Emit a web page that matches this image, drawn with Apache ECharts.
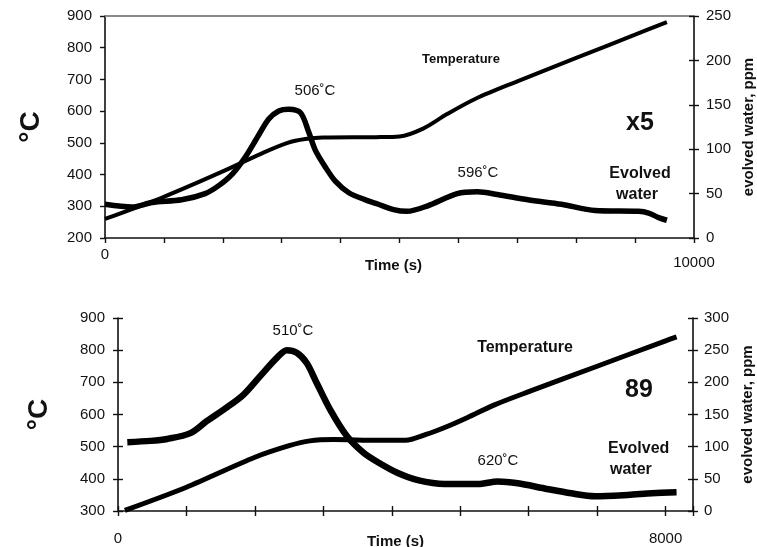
<!DOCTYPE html>
<html>
<head>
<meta charset="utf-8">
<script src="https://cdn.jsdelivr.net/npm/echarts@6/dist/echarts.min.js"></script>
<style>
  html, body { margin: 0; padding: 0; background: #fff; }
  #main { width: 757px; height: 547px; }
</style>
</head>
<body>
<div id="main"></div>
<script>
// upper panel (x5): time in s, temperature in °C, water in ppm
var topTempTime = [0, 1000, 2000, 2700, 3100, 3400, 3700, 4600, 5000, 5400, 5800, 6300, 7000, 8000, 9000, 9540];
var topTemp = [260, 330, 410, 470, 500, 512, 517, 518, 520, 545, 590, 640, 694, 768, 841, 881];
var topWaterTime = [0, 460, 800, 1300, 1700, 1930, 2160, 2380, 2610, 2780, 2950, 3120, 3320, 3460, 3570, 3740, 3910, 4140, 4420, 4640, 4900, 5125, 5470, 5980, 6320, 6660, 7180, 7750, 8320, 9060, 9230, 9400, 9540];
var topWater = [38, 35, 40, 43, 50, 59, 72, 91, 116, 134, 143, 145, 141, 119, 99, 80, 64, 51, 43, 38, 32, 30, 36, 50, 52, 49, 43, 38, 31, 30, 28, 23, 20];

// lower panel (89)
var botTempTime = [100, 1000, 2000, 2500, 2800, 3150, 3800, 4200, 4500, 4800, 5100, 5500, 6000, 7000, 8000, 8160];
var botTemp = [302, 374, 467, 503, 518, 522, 520, 520, 538, 562, 590, 630, 671, 750, 829, 841];
var botWaterTime = [136, 476, 718, 1058, 1300, 1590, 1835, 2080, 2320, 2466, 2612, 2757, 2903, 3097, 3340, 3583, 3810, 4088, 4380, 4770, 5260, 5550, 5840, 6230, 6620, 6970, 7450, 7800, 8160];
var botWater = [107, 109, 112, 121, 140, 161, 181, 210, 238, 250, 246, 230, 199, 158, 117, 91, 75, 59, 48, 42, 42, 46, 43, 35, 27.5, 23, 25, 27.5, 29];

// [min, max, step]
var topTempTicks = [200, 900, 100];
var topWaterTicks = [0, 250, 50];
var botTempTicks = [300, 900, 100];
var botWaterTicks = [0, 300, 50];

function pairs(xs, ys) {
    return xs.map(function (x, i) { return [x, ys[i]]; });
}

var font = 'Liberation Sans, Arial, sans-serif';
var black = '#111';

function yAx(grid, pos, ticks, opts) {
    var a = {
        type: 'value', gridIndex: grid, position: pos,
        min: ticks[0], max: ticks[1], interval: ticks[2],
        splitLine: { show: false },
        axisLine: { show: true, onZero: false, lineStyle: { color: black, width: 1.6 } },
        axisTick: { show: true, length: 5, inside: false, lineStyle: { color: black, width: 1.4 } },
        axisLabel: { show: true, fontFamily: font, fontSize: 15, color: black, margin: 12 },
        nameMoveOverlap: false
    };
    return Object.assign(a, opts || {});
}

// second copy of an axis, only for the inner half of the cross ticks
function innerY(grid, pos, ticks) {
    return yAx(grid, pos, ticks, {
        axisLine: { show: false, onZero: false },
        axisTick: { show: true, length: 5, inside: true, lineStyle: { color: black, width: 1.4 } },
        axisLabel: { show: false }
    });
}

var myChart = echarts.init(document.getElementById('main'));

var option = {
    animation: false,
    grid: [
        { left: 105, right: 63, top: 16, height: 222, outerBoundsMode: 'none' },
        { left: 118, right: 64, top: 318, height: 193, outerBoundsMode: 'none' },
        { left: 105, right: 63, top: 16, height: 222, outerBoundsMode: 'none' },
        { left: 118, right: 64, top: 318, height: 193, outerBoundsMode: 'none' }
    ],
    xAxis: [
        {
            type: 'value', gridIndex: 0, position: 'bottom', min: 0, max: 10000, interval: 1000,
            splitLine: { show: false },
            axisLine: { onZero: false, lineStyle: { color: black, width: 1.6 } },
            axisTick: { length: 5, lineStyle: { color: black, width: 1.4 } },
            axisLabel: {
                margin: 9, fontFamily: font, fontSize: 15, color: black,
                formatter: function (v) {
                    if (v === 0) return '{a|0}';
                    if (v === 10000) return '{b|10000}';
                    return '';
                },
                rich: {
                    a: { fontFamily: font, fontSize: 15, color: black },
                    b: { fontFamily: font, fontSize: 15, color: black, padding: [8, 0, 0, 0] }
                }
            },
            name: 'Time (s)', nameLocation: 'middle', nameGap: 20, nameMoveOverlap: false,
            nameTextStyle: { fontFamily: font, fontSize: 15, fontWeight: 'bold', color: black, padding: [0, 12, 0, 0] }
        },
        {
            type: 'value', gridIndex: 0, position: 'top', min: 0, max: 10000,
            splitLine: { show: false },
            axisLine: { onZero: false, lineStyle: { color: '#8a8a8a', width: 2 } },
            axisTick: { show: false }, axisLabel: { show: false }
        },
        {
            type: 'value', gridIndex: 1, position: 'bottom', min: 0, max: 8400, interval: 1000,
            splitLine: { show: false },
            axisLine: { onZero: false, lineStyle: { color: black, width: 1.6 } },
            axisTick: { length: 5, lineStyle: { color: black, width: 1.4 } },
            axisLabel: {
                margin: 20, fontFamily: font, fontSize: 15, color: black,
                formatter: function (v) {
                    return (v === 0 || v === 8000) ? String(v) : '';
                }
            },
            name: 'Time (s)', nameLocation: 'middle', nameGap: 23, nameMoveOverlap: false,
            nameTextStyle: { fontFamily: font, fontSize: 15, fontWeight: 'bold', color: black, padding: [0, 20, 0, 0] }
        },
        {
            type: 'value', gridIndex: 2, show: false, min: 0, max: 10000,
            axisLine: { onZero: false }
        },
        {
            type: 'value', gridIndex: 3, position: 'bottom', min: 0, max: 8400, interval: 1000,
            splitLine: { show: false },
            axisLine: { show: false, onZero: false },
            axisTick: { length: 5, inside: true, lineStyle: { color: black, width: 1.4 } },
            axisLabel: { show: false }
        }
    ],
    yAxis: [
        yAx(0, 'left', topTempTicks, {
            axisLabel: { fontFamily: font, fontSize: 15, color: black, margin: 13 },
            name: '°C', nameLocation: 'middle', nameRotate: 90, nameGap: 60,
            nameTextStyle: { fontFamily: font, fontSize: 28, fontWeight: 'bold', color: black }
        }),
        yAx(0, 'right', topWaterTicks, {
            axisLabel: { fontFamily: font, fontSize: 15, color: black, margin: 12 },
            name: 'evolved water, ppm', nameLocation: 'middle', nameRotate: 90, nameGap: 47,
            nameTextStyle: { fontFamily: font, fontSize: 15, fontWeight: 'bold', color: black }
        }),
        innerY(2, 'right', topWaterTicks),
        yAx(1, 'left', botTempTicks, {
            axisLabel: { fontFamily: font, fontSize: 15, color: black, margin: 13 },
            name: '°C', nameLocation: 'middle', nameRotate: 90, nameGap: 65,
            nameTextStyle: { fontFamily: font, fontSize: 28, fontWeight: 'bold', color: black }
        }),
        yAx(1, 'right', botWaterTicks, {
            axisLabel: { fontFamily: font, fontSize: 15, color: black, margin: 11 },
            name: 'evolved water, ppm', nameLocation: 'middle', nameRotate: 90, nameGap: 47,
            nameTextStyle: { fontFamily: font, fontSize: 15, fontWeight: 'bold', color: black }
        }),
        innerY(3, 'left', botTempTicks),
        innerY(3, 'right', botWaterTicks)
    ],
    series: [
        {
            name: 'Temperature x5', type: 'line', xAxisIndex: 0, yAxisIndex: 0,
            data: pairs(topTempTime, topTemp), smooth: 0.3, showSymbol: false,
            lineStyle: { color: '#000', width: 4 }
        },
        {
            name: 'Evolved water x5', type: 'line', xAxisIndex: 0, yAxisIndex: 1,
            data: pairs(topWaterTime, topWater), smooth: 0.3, showSymbol: false,
            lineStyle: { color: '#000', width: 5.5 }
        },
        {
            name: 'Temperature 89', type: 'line', xAxisIndex: 2, yAxisIndex: 3,
            data: pairs(botTempTime, botTemp), smooth: 0.3, showSymbol: false,
            lineStyle: { color: '#000', width: 5 }
        },
        {
            name: 'Evolved water 89', type: 'line', xAxisIndex: 2, yAxisIndex: 4,
            data: pairs(botWaterTime, botWater), smooth: 0.3, showSymbol: false,
            lineStyle: { color: '#000', width: 6.5 }
        }
    ],
    graphic: [
        // upper panel notes
        { type: 'text', x: 315, y: 91, style: { text: '506˚C', font: '15px ' + font, fill: black, align: 'center', verticalAlign: 'middle' } },
        { type: 'text', x: 461, y: 59, style: { text: 'Temperature', font: 'bold 13px ' + font, fill: black, align: 'center', verticalAlign: 'middle' } },
        { type: 'text', x: 640, y: 123, style: { text: 'x5', font: 'bold 25px ' + font, fill: black, align: 'center', verticalAlign: 'middle' } },
        { type: 'text', x: 640, y: 174, style: { text: 'Evolved', font: 'bold 16px ' + font, fill: black, align: 'center', verticalAlign: 'middle' } },
        { type: 'text', x: 637, y: 195, style: { text: 'water', font: 'bold 16px ' + font, fill: black, align: 'center', verticalAlign: 'middle' } },
        { type: 'text', x: 478, y: 173, style: { text: '596˚C', font: '15px ' + font, fill: black, align: 'center', verticalAlign: 'middle' } },
        // lower panel notes
        { type: 'text', x: 293, y: 331, style: { text: '510˚C', font: '15px ' + font, fill: black, align: 'center', verticalAlign: 'middle' } },
        { type: 'text', x: 525, y: 348, style: { text: 'Temperature', font: 'bold 16px ' + font, fill: black, align: 'center', verticalAlign: 'middle' } },
        { type: 'text', x: 639, y: 390, style: { text: '89', font: 'bold 25px ' + font, fill: black, align: 'center', verticalAlign: 'middle' } },
        { type: 'text', x: 608, y: 449, style: { text: 'Evolved', font: 'bold 16px ' + font, fill: black, align: 'left', verticalAlign: 'middle' } },
        { type: 'text', x: 610, y: 470, style: { text: 'water', font: 'bold 16px ' + font, fill: black, align: 'left', verticalAlign: 'middle' } },
        { type: 'text', x: 498, y: 461, style: { text: '620˚C', font: '15px ' + font, fill: black, align: 'center', verticalAlign: 'middle' } }
    ]
};
myChart.setOption(option);
</script>
</body>
</html>
